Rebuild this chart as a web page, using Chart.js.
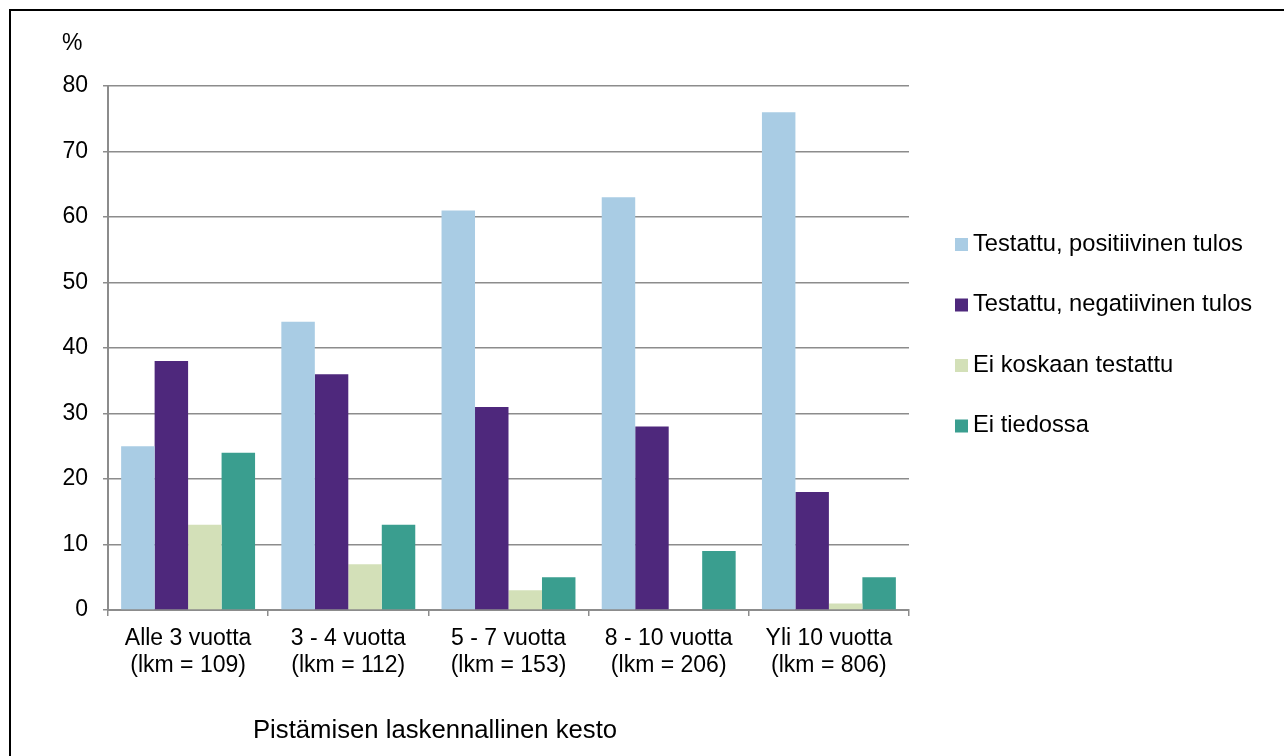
<!DOCTYPE html>
<html>
<head>
<meta charset="utf-8">
<script src="https://cdn.jsdelivr.net/npm/chart.js@4/dist/chart.umd.min.js"></script>
<style>
  html, body { margin: 0; padding: 0; background: #fff; }
  #wrap { position: relative; width: 1284px; height: 756px; }
  canvas { display: block; }
</style>
</head>
<body>
<div id="wrap"><canvas id="c" width="1284" height="756"></canvas></div>
<script>
// Kesto-luokat (kaksirivinen nimi + havaintojen lukumäärä)
const categories = [
  ['Alle 3 vuotta', '(lkm = 109)'],
  ['3 - 4 vuotta', '(lkm = 112)'],
  ['5 - 7 vuotta', '(lkm = 153)'],
  ['8 - 10 vuotta', '(lkm = 206)'],
  ['Yli 10 vuotta', '(lkm = 806)']
];

const seriesNames = [
  'Testattu, positiivinen tulos',
  'Testattu, negatiivinen tulos',
  'Ei koskaan testattu',
  'Ei tiedossa'
];

// Osuudet prosentteina
const positiivinen = [25, 44, 61, 63, 76];
const negatiivinen = [38, 36, 31, 28, 18];
const eiTestattu = [13, 7, 3, 0, 1];
const eiTiedossa = [24, 13, 5, 9, 5];

const yTicks = [0, 10, 20, 30, 40, 50, 60, 70, 80];

const yUnit = '%';
const xTitle = 'Pistämisen laskennallinen kesto';

const colors = ['#a9cce4', '#4e287c', '#d3e0b8', '#3a9e8f'];
const FONT = '"Liberation Sans", Arial, sans-serif';
const GRID = '#8c8c8c';

const values = [positiivinen, negatiivinen, eiTestattu, eiTiedossa];

const datasets = seriesNames.map((name, i) => ({
  label: name,
  data: values[i],
  backgroundColor: colors[i],
  borderWidth: 0,
  categoryPercentage: 0.836,
  barPercentage: 1.0
}));

// Kehys, yksikkö, akselin otsikko ja selite
const decorations = {
  id: 'decorations',
  afterDraw(chart) {
    const ctx = chart.ctx;
    ctx.save();
    // kehys vasemmalla ja ylhäällä
    ctx.strokeStyle = '#000';
    ctx.lineWidth = 2;
    ctx.beginPath();
    ctx.moveTo(10, 760);
    ctx.lineTo(10, 10);
    ctx.lineTo(1290, 10);
    ctx.stroke();

    ctx.fillStyle = '#000';
    ctx.textBaseline = 'middle';
    ctx.textAlign = 'left';
    ctx.font = '23px ' + FONT;
    ctx.fillText(yUnit, 62, 44);

    ctx.font = '25.7px ' + FONT;
    ctx.textAlign = 'center';
    ctx.fillText(xTitle, 435, 731);

    // selite
    ctx.textAlign = 'left';
    ctx.font = '23.7px ' + FONT;
    const lx = 955, ly0 = 244, step = 60.5;
    chart.data.datasets.forEach((ds, i) => {
      const y = ly0 + i * step;
      ctx.fillStyle = ds.backgroundColor;
      ctx.fillRect(lx, y - 6, 13, 13);
      ctx.fillStyle = '#000';
      ctx.fillText(ds.label, lx + 18, y);
    });
    ctx.restore();
  }
};

new Chart(document.getElementById('c'), {
  type: 'bar',
  data: { labels: categories, datasets },
  options: {
    responsive: false,
    animation: false,
    layout: { padding: { left: 0, right: 375, top: 86, bottom: 0 } },
    plugins: { legend: { display: false }, tooltip: { enabled: false } },
    scales: {
      x: {
        grid: { display: true, drawOnChartArea: false, offset: true, color: GRID, lineWidth: 1.5, tickLength: 6 },
        border: { color: GRID, width: 2 },
        ticks: { color: '#000', font: { family: FONT, size: 23, lineHeight: '27px' }, padding: 9, maxRotation: 0, autoSkip: false },
        afterFit(scale) { scale.height = 146; }
      },
      y: {
        min: 0, max: 80,
        afterBuildTicks(scale) { scale.ticks = yTicks.map(v => ({ value: v })); },
        grid: { color: GRID, lineWidth: 1.5, tickLength: 5 },
        border: { color: GRID, width: 2 },
        ticks: { color: '#000', font: { family: FONT, size: 23 }, padding: 15 },
        afterFit(scale) { scale.width = 108; }
      }
    }
  },
  plugins: [decorations]
});
</script>
</body>
</html>
